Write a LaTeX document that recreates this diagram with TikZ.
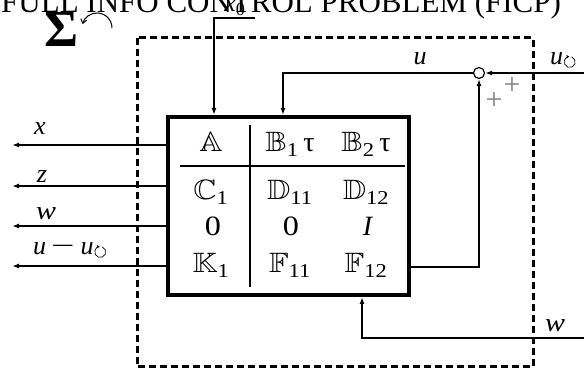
\documentclass[tikz,border=0pt]{standalone}
\usepackage{amssymb}
\usepackage{fontspec}
\setmainfont{Liberation Serif}
\usetikzlibrary{arrows.meta}
\newcommand\cx[1]{\scalebox{1.15}[1]{#1}}
\newcommand\bbs[2]{\cx{$\mathbb{#1}$\textsubscript{#2}}}
\newcommand\circarr{\tikz[baseline=0pt]\draw[line width=0.7pt,-{Stealth[length=3pt,width=3.5pt]}] (6.5pt,3pt) ++(70:5.5pt) arc[start angle=70,end angle=-265,radius=5.5pt];}
\newcommand\wminus{\scalebox{1.6}[1]{−}}
\tikzset{
  conn/.style={line width=1.6pt},
  arr/.style={conn,-{Latex[length=7pt,width=5pt]}},
  lbl/.style={font=\fontsize{26}{28}\selectfont, anchor=base, inner sep=0pt},
  cell/.style={font=\fontsize{28}{30}\selectfont, anchor=base, inner sep=0pt},
  plus/.style={font=\fontsize{30}{32}\selectfont, text=gray, inner sep=0pt},
}
\begin{document}
\begin{tikzpicture}[x=1pt,y=-1pt]
\fill[white] (0,0) rectangle (584,371);
\useasboundingbox (0,0) rectangle (584,371);
% title
\node[anchor=base west, inner sep=0pt, font=\fontsize{31}{33}\selectfont] (title) at (1,13) {FULL INFO CONTROL PROBLEM (FICP)};
\node[anchor=base, inner sep=0pt, font=\fontsize{52}{54}\selectfont\bfseries] (sig) at (61,47) {Σ};
\draw[line width=1pt,-{Straight Barb[length=4pt,width=6pt]}] (112,28) arc[start angle=0,end angle=-165,radius=15];
% frame
\draw[line width=3pt, dash pattern=on 7pt off 4pt] (137,38) rectangle (533,367);
% main box
\node[draw, line width=4pt, minimum width=241pt, minimum height=178pt, inner sep=0pt, fill=white] (box) at (288.5,206) {};
\draw[line width=1.4pt] (250,125) -- (250,287);
\draw[line width=1.4pt] (180,166) -- (405,166);
% cells
\node[cell] (c11) at (211,152) {\cx{$\mathbb{A}$}};
\node[cell] (c12) at (290,152) {\bbs{B}{1}\,τ};
\node[cell] (c13) at (366,152) {\bbs{B}{2}\,τ};
\node[cell] (c21) at (211,200) {\bbs{C}{1}};
\node[cell] (c22) at (290,200) {\bbs{D}{11}};
\node[cell] (c23) at (366,200) {\bbs{D}{12}};
\node[cell] (c31) at (213,236) {\cx{0}};
\node[cell] (c32) at (291,236) {\cx{0}};
\node[cell] (c33) at (368,236) {\textit{I}};
\node[cell] (c41) at (211,273) {\bbs{K}{1}};
\node[cell] (c42) at (290,273) {\bbs{F}{11}};
\node[cell] (c43) at (366,273) {\bbs{F}{12}};
% left outputs
\coordinate (ox) at (12,145);
\coordinate (oz) at (12,186);
\coordinate (ow) at (12,226);
\coordinate (ou) at (12,266);
\draw[arr] (box.west |- ox) -- (ox);
\draw[arr] (box.west |- oz) -- (oz);
\draw[arr] (box.west |- ow) -- (ow);
\draw[arr] (box.west |- ou) -- (ou);
\node[lbl] (lx) at (40,135) {\textit{x}};
\node[lbl] (lz) at (42,183) {\textit{z}};
\node[lbl] (lw) at (46,220) {\cx{\textit{w}}};
\node[lbl, anchor=base west] (lu) at (33,255) {\textit{u}\hspace{5pt}\wminus\hspace{6pt}\textit{u}\circarr};
% x0 input
\coordinate (x0s) at (255,18);
\node[lbl] (lx0) at (235,12) {\textit{x}\textsubscript{0}};
\draw[arr] (x0s) -| ([xshift=-74.5pt]box.north);
% summing junction
\node[circle, draw, line width=1.2pt, fill=white, minimum size=11pt, inner sep=0pt] (sum) at (479,73) {};
\coordinate (uin) at (584,73);
\draw[arr] (uin) -- (sum.east);
\draw[arr] (sum.west) -| ([xshift=-5.5pt]box.north);
\draw[arr] ([yshift=-61pt]box.east) -| (sum.south);
\node[lbl] (lu1) at (420,65) {\textit{u}};
\node[lbl, anchor=base west] (lu2) at (550,65) {\textit{u}\circarr};
\node[plus] (p1) at (512,86) {+};
\node[plus] (p2) at (494,101) {+};
% bottom w input
\coordinate (win) at (584,338);
\draw[arr] (win) -| ([xshift=73.5pt]box.south);
\node[lbl] (lw2) at (555,332) {\cx{\textit{w}}};
\end{tikzpicture}
\end{document}
